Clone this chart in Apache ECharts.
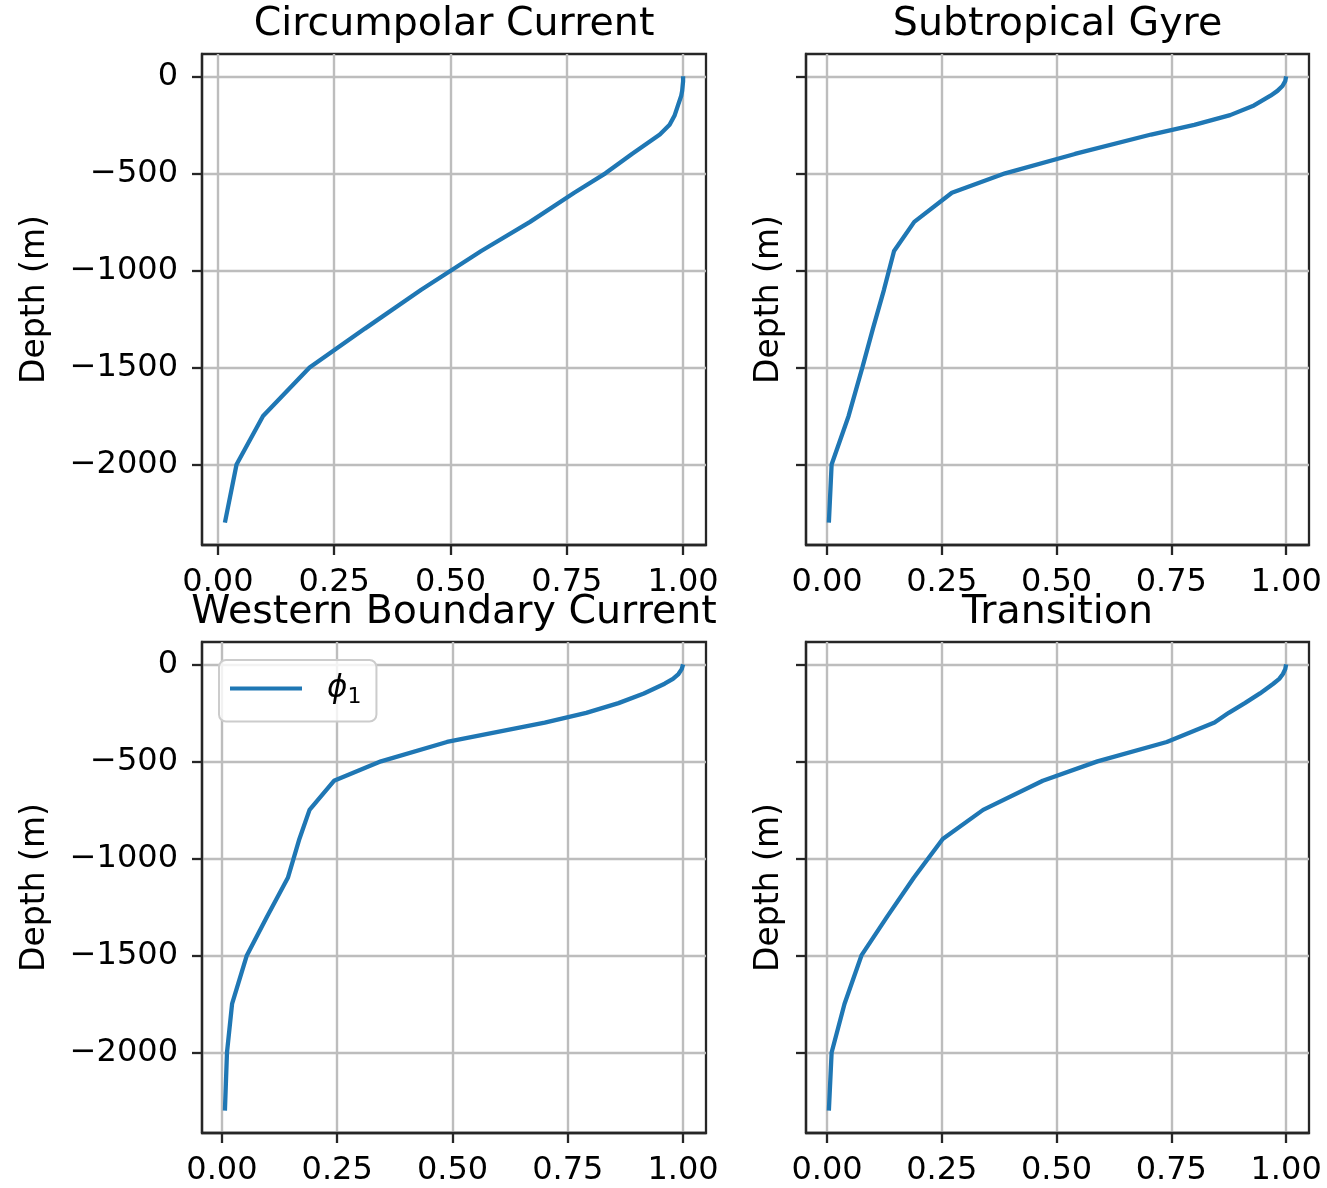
<!DOCTYPE html>
<html><head><meta charset="utf-8">
<script src="https://cdn.jsdelivr.net/npm/echarts@6/dist/echarts.min.js"></script>
<style>html,body{margin:0;padding:0;background:#fff}#c{width:1327px;height:1188px}</style>
</head><body><div id="c"></div>
<script>
// ---- data ----
const depth = [0, -25, -50, -75, -100, -150, -200, -250, -300, -400, -500, -600, -750, -900, -1100, -1300, -1500, -1750, -2000, -2300];
const circumpolar = [1.0, 1.0, 0.999, 0.998, 0.996, 0.989, 0.982, 0.971, 0.950, 0.890, 0.833, 0.766, 0.671, 0.566, 0.437, 0.316, 0.197, 0.097, 0.040, 0.015];
const subtropical = [1.0, 0.998, 0.992, 0.981, 0.966, 0.930, 0.878, 0.800, 0.706, 0.540, 0.388, 0.272, 0.190, 0.146, 0.124, 0.100, 0.077, 0.047, 0.010, 0.004];
const western = [1.0, 0.997, 0.990, 0.978, 0.960, 0.915, 0.860, 0.790, 0.700, 0.488, 0.345, 0.243, 0.190, 0.168, 0.143, 0.098, 0.054, 0.022, 0.011, 0.0065];
const transition = [1.0, 0.998, 0.993, 0.985, 0.972, 0.943, 0.910, 0.875, 0.844, 0.740, 0.589, 0.470, 0.340, 0.252, 0.189, 0.131, 0.075, 0.038, 0.010, 0.004];
const xTicks = [0, 0.25, 0.5, 0.75, 1.0];
const yTicks = [0, -500, -1000, -1500, -2000];
const titles = ['Circumpolar Current', 'Subtropical Gyre', 'Western Boundary Current', 'Transition'];
const yName = 'Depth (m)';
const legendName = 'phi1';

// ---- layout / style ----
const FONT = 'DejaVu Sans';
const INK = '#262626';
const GRIDC = '#bdbdbd';
const panels = [
  {left: 202, top: 54, width: 504, height: 491, labels: true},
  {left: 806, top: 54, width: 503, height: 491, labels: false},
  {left: 202, top: 642, width: 504, height: 491, labels: true},
  {left: 806, top: 642, width: 503, height: 491, labels: false}
];
const values = [circumpolar, subtropical, western, transition];

function padRange(arr) {
  const mn = Math.min(...arr), mx = Math.max(...arr), p = 0.05 * (mx - mn);
  return [mn - p, mx + p];
}
const yr = padRange(depth);

const option = {
  animation: false,
  backgroundColor: '#fff',
  title: panels.map((p, i) => ({
    text: titles[i], left: p.left + p.width / 2, top: p.top - 49, textAlign: 'center', padding: 0,
    textStyle: {fontFamily: FONT, fontSize: 39.5, fontWeight: 'normal', color: '#000'}
  })),
  legend: {
    data: [legendName], left: 219, top: 660, orient: 'vertical',
    padding: [13, 15, 13, 11], icon: 'rect', itemWidth: 72, itemHeight: 4,
    itemStyle: {color: '#1f77b4'},
    backgroundColor: 'rgba(255,255,255,0.8)', borderColor: '#cccccc', borderWidth: 2, borderRadius: 7,
    formatter: () => '{a|\u03d5}{b|1}',
    textStyle: {
      fontFamily: FONT, color: '#000',
      rich: {
        a: {fontFamily: FONT, fontSize: 31, fontStyle: 'italic', lineHeight: 40, padding: [0, 0, 0, 20], color: '#000'},
        b: {fontFamily: FONT, fontSize: 22, lineHeight: 22, verticalAlign: 'bottom', color: '#000'}
      }
    }
  },
  grid: panels.map(p => ({
    left: p.left, top: p.top, width: p.width, height: p.height,
    show: true, borderColor: INK, borderWidth: 2.3, backgroundColor: 'transparent',
    containLabel: false, outerBoundsMode: 'none'
  })),
  xAxis: panels.map((p, i) => {
    const r = padRange(values[i]);
    return {
      type: 'value', gridIndex: i, min: r[0], max: r[1], position: 'bottom',
      axisLine: {show: true, onZero: false, lineStyle: {color: INK, width: 2.3}},
      axisTick: {show: true, length: 10, customValues: xTicks, lineStyle: {color: INK, width: 2.3}},
      axisLabel: {show: true, customValues: xTicks, formatter: v => Number(v).toFixed(2),
        fontFamily: FONT, fontSize: 32, color: '#000', margin: 22},
      splitLine: {show: true, lineStyle: {color: GRIDC, width: 2.4}}
    };
  }),
  yAxis: panels.map((p, i) => ({
    type: 'value', gridIndex: i, min: yr[0], max: yr[1], position: 'left',
    name: yName, nameLocation: 'middle', nameRotate: 90, nameGap: p.labels ? 150 : 20,
    nameTextStyle: {fontFamily: FONT, fontSize: 33, color: '#000'},
    axisLine: {show: true, onZero: false, lineStyle: {color: INK, width: 2.3}},
    axisTick: {show: true, length: 10, customValues: yTicks, lineStyle: {color: INK, width: 2.3}},
    axisLabel: {show: p.labels, customValues: yTicks,
      formatter: v => (v < 0 ? '\u2212' + Math.abs(v) : String(v)),
      fontFamily: FONT, fontSize: 32, color: '#000', margin: 24},
    splitLine: {show: true, lineStyle: {color: GRIDC, width: 2.4}}
  })),
  series: values.map((vals, i) => ({
    type: 'line', name: i === 2 ? legendName : 'profile' + i,
    xAxisIndex: i, yAxisIndex: i,
    data: vals.map((v, k) => [v, depth[k]]),
    symbol: 'none', showSymbol: false,
    lineStyle: {color: '#1f77b4', width: 4.3}, itemStyle: {color: '#1f77b4'},
    z: 3
  }))
};
const chart = echarts.init(document.getElementById('c'), null, {renderer: 'canvas'});
chart.setOption(option);
</script>
</body></html>
